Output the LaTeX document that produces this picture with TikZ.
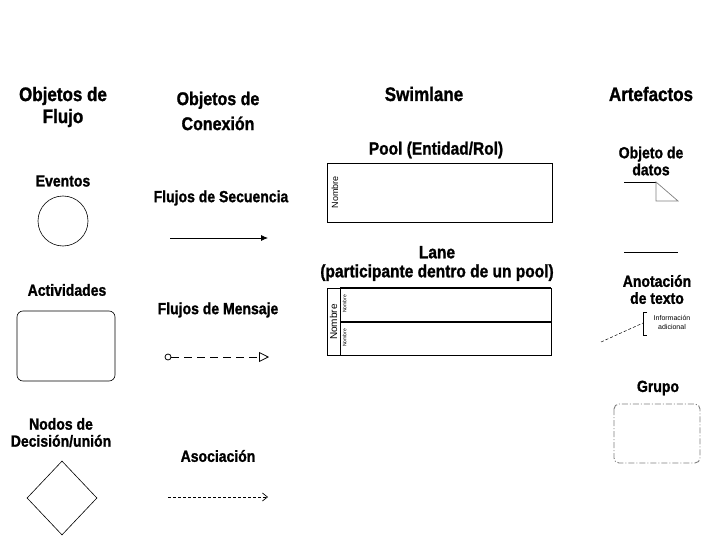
\documentclass[tikz,border=0pt]{standalone}
\usepackage{fontspec}
\usepackage{graphicx}
\setmainfont{Liberation Sans}[BoldFeatures={FakeBold=1.3}]
\usetikzlibrary{shapes.geometric,arrows.meta}
\newcommand{\vs}[1]{\scalebox{1}[1.15]{#1}}
\begin{document}
\begin{tikzpicture}[x=1pt,y=-1pt,line width=0.8pt,
  head/.style={font=\bfseries\fontsize{17}{22}\selectfont, align=center, inner sep=0},
  sub/.style={font=\bfseries\fontsize{14}{17}\selectfont, align=center, inner sep=0},
  swim/.style={font=\bfseries\fontsize{15.5}{19}\selectfont, align=center, inner sep=0},
  tiny/.style={font=\fontsize{#1}{#1}\selectfont, rotate=90, inner sep=0}]
\useasboundingbox (0,0) rectangle (720,540);
\fill[white] (0,0) rectangle (720,540);
% headings
\node[head] (hflujo) at (63,107) {\vs{Objetos de}\\\vs{Flujo}};
\node[head, font=\bfseries\fontsize{16}{25}\selectfont] (hcon) at (218,111) {\vs{Objetos de}\\\vs{Conexión}};
\node[head] (hswim) at (424,94) {\vs{Swimlane}};
\node[head] (hart) at (651,94) {\vs{Artefactos}};
% flow objects
\node[sub] (eventos) at (63,181) {\vs{Eventos}};
\node[circle, draw, line width=0.6pt, minimum size=50, inner sep=0] (evento) at (63,221) {};
\node[sub] (activ) at (67,290) {\vs{Actividades}};
\node[draw, line width=0.6pt, rounded corners=6, minimum width=98, minimum height=70, inner sep=0] (actividad) at (66,346) {};
\node[sub] (nodos) at (61,432.5) {\vs{Nodos de}\\\vs{Decisión/unión}};
\node[diamond, draw, line width=0.6pt, minimum width=70, minimum height=74, inner sep=0] (decision) at (62,498) {};
% connecting objects
\node[sub] (secuencia) at (221,198) {\vs{Flujos de Secuencia}};
\coordinate (s1) at (170,238);
\coordinate (s2) at (268,238);
\draw[-{Latex[length=7,width=6]}] (s1) -- (s2);
\node[sub] (mensaje) at (218,310) {\vs{Flujos de Mensaje}};
\node[circle, draw, inner sep=0, minimum size=6] (m1) at (168,357) {};
\coordinate (m2) at (269,357);
\draw[dash pattern=on 8pt off 5pt, -{Triangle[open,length=10,width=10]}] (m1) -- (m2);
\node[sub] (asoc) at (218,456) {\vs{Asociación}};
\coordinate (a1) at (168,497);
\coordinate (a2) at (268,497);
\draw[line width=0.7pt, dash pattern=on 3pt off 2pt, -{Straight Barb[length=5,width=8]}] (a1) -- (a2);
% swimlanes
\node[swim] (pooltitle) at (436,150) {\vs{Pool (Entidad/Rol)}};
\node[draw, minimum width=225, minimum height=59, inner sep=0] (pool) at (439.5,192.5) {};
\node[tiny=9] (poolname) at (335,192) {Nombre};
\node[swim] (lanetitle) at (437,263.5) {\vs{Lane}\\\vs{(participante dentro de un pool)}};
\draw (327,288) rectangle (551,355);
\draw[line width=2pt] (340,288) -- (551,288);
\draw[line width=2pt] (340,321.5) -- (551,321.5);
\draw (340,288) -- (340,355);
\node[tiny=10] (lanename) at (333.5,322) {Nombre};
\node[tiny=5] (lane1) at (344.5,304) {Nombre};
\node[tiny=5] (lane2) at (344.5,338) {Nombre};
% artifacts
\node[sub] (objdatos) at (651,161) {\vs{Objeto de}\\\vs{datos}};
\draw (624,182) -- (656,182);
\draw[gray, line width=0.7pt] (656,182) -- (656,201) -- (678,201) -- cycle;
\draw (624,252) -- (678,252);
\node[sub] (anot) at (657,289.5) {\vs{Anotación}\\\vs{de texto}};
\draw[line width=0.6pt] (647,312) -- (643,312) -- (643,335) -- (647,335);
\node[font=\fontsize{7}{9}\selectfont, align=center, inner sep=0] (info) at (672,322) {Información\\adicional};
\coordinate (anotend) at (601,342);
\draw[line width=0.5pt, densely dashed] (anotend) -- (643,323);
\node[sub] (grupo) at (658,388) {\vs{Grupo}};
\draw[gray, line width=0.9pt, dash pattern=on 6pt off 2pt on 1pt off 2pt, rounded corners=5] (614,404) rectangle (700,463);
\end{tikzpicture}
\end{document}
